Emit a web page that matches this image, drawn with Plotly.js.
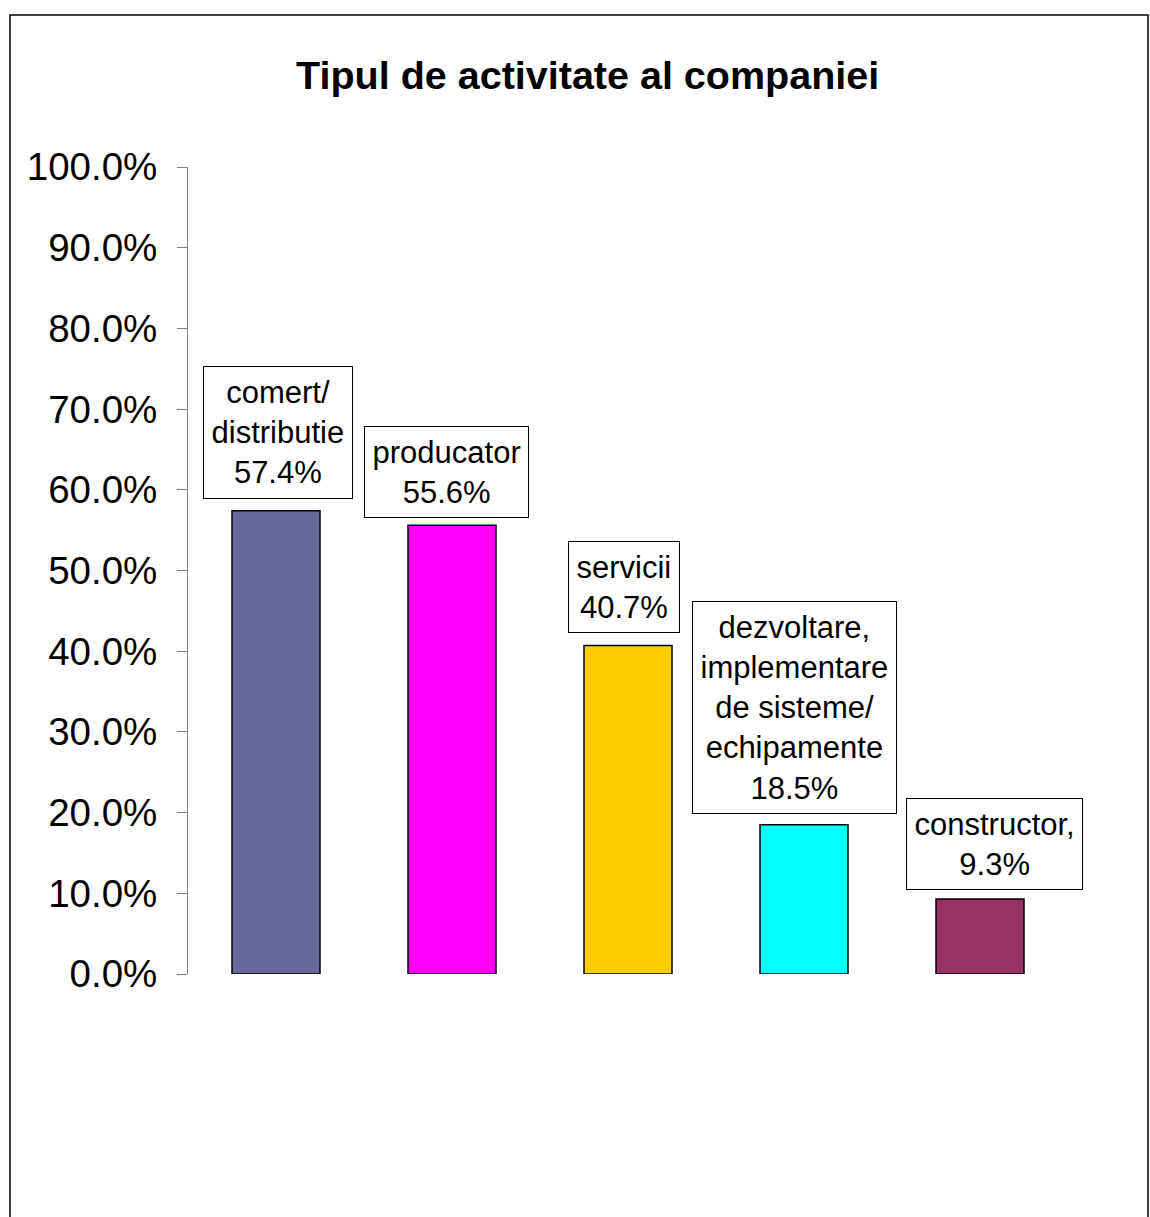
<!DOCTYPE html>
<html>
<head>
<meta charset="utf-8">
<script src="https://cdn.plot.ly/plotly-3.0.1.min.js"></script>
<style>html,body{margin:0;padding:0;background:#fff;}#chart{width:1150px;height:1217px;}</style>
</head>
<body>
<div id="chart"></div>
<script>
const categories = ["comert/<br>distributie", "producator", "servicii", "dezvoltare,<br>implementare<br>de sisteme/<br>echipamente", "constructor,"];
const values = [57.4, 55.6, 40.7, 18.5, 9.3];
const barColors = ["#666699", "#FF00FF", "#FFCC00", "#00FFFF", "#993366"];
const yTickValues = [0, 10, 20, 30, 40, 50, 60, 70, 80, 90, 100];
const yTickLabels = yTickValues.map(v => v.toFixed(1) + "%");
const chartTitle = "Tipul de activitate al companiei";

// label box placement offsets (style only, pixels)
const labelXShift = [1.5, -6, -4.5, -9.5, 14];
const labelYShift = [12, 7, 13, 11, 9];

const xIdx = categories.map((c, i) => i);

const trace = {
  type: "bar",
  x: xIdx,
  y: values,
  marker: {color: barColors, line: {color: "#000000", width: 1.5}},
  hoverinfo: "none"
};

const annotations = categories.map((c, i) => ({
  x: i, y: values[i], xref: "x", yref: "y",
  text: c + "<br>" + values[i].toFixed(1) + "%",
  showarrow: false,
  yanchor: "bottom",
  yshift: labelYShift[i],
  xshift: labelXShift[i],
  font: {family: "Liberation Sans, Arial, sans-serif", size: 31, color: "#000"},
  bgcolor: "#ffffff",
  bordercolor: "#000000",
  borderwidth: 1,
  borderpad: 7.5,
  align: "center"
}));

const layout = {
  width: 1150, height: 1217,
  margin: {l: 188, r: 82, t: 167, b: 243},
  paper_bgcolor: "#ffffff",
  plot_bgcolor: "#ffffff",
  showlegend: false,
  bargap: 0.5,
  title: {
    text: "<b>" + chartTitle + "</b>",
    font: {family: "Liberation Sans, Arial, sans-serif", size: 39.5, color: "#000"},
    x: 0.511, xanchor: "center", y: 0.938, yanchor: "middle"
  },
  xaxis: {
    range: [-0.5, 4.5],
    showticklabels: false, showgrid: false, zeroline: false, showline: false, ticks: ""
  },
  yaxis: {
    range: [0, 100],
    tickmode: "array",
    tickvals: yTickValues,
    ticktext: yTickLabels,
    ticks: "outside", ticklen: 10, tickcolor: "#808080", tickwidth: 1,
    showline: true, linecolor: "#808080", linewidth: 1,
    showgrid: false, zeroline: false,
    ticklabelstandoff: 12,
    tickfont: {family: "Liberation Sans, Arial, sans-serif", size: 38.5, color: "#000"}
  },
  annotations: annotations,
  shapes: [{
    type: "rect", xref: "paper", yref: "paper",
    x0: (10 - 188) / 880, x1: (1148 - 188) / 880,
    y0: -0.4, y1: (974 - 15) / 807,
    line: {color: "#000", width: 1.5}, fillcolor: "rgba(0,0,0,0)", layer: "below"
  }]
};

Plotly.newPlot("chart", [trace], layout, {displayModeBar: false, staticPlot: true});
</script>
</body>
</html>
